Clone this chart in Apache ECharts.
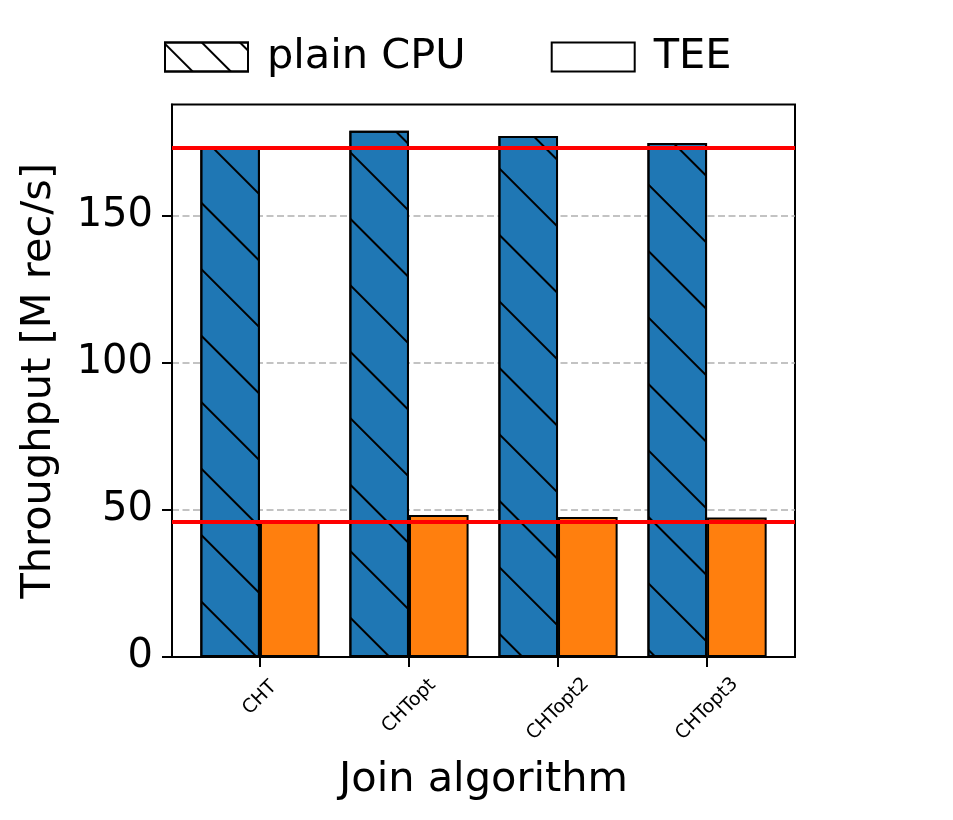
<!DOCTYPE html>
<html>
<head>
<meta charset="utf-8">
<script src="https://cdn.jsdelivr.net/npm/echarts@6/dist/echarts.min.js"></script>
<style>html,body{margin:0;padding:0;background:#fff}#c{width:953px;height:820px}</style>
</head>
<body>
<div id="c"></div>
<script>
const categories = ['CHT', 'CHTopt', 'CHTopt2', 'CHTopt3'];
const plainCPU = [172.9, 178.8, 177.0, 174.6];
const tee = [45.9, 48.2, 47.6, 47.4];
const refLines = [172.9, 45.9];
const yTicks = [0, 50, 100, 150];
const xTicks = [0, 1, 2, 3];
const seriesNames = ['plain CPU', 'TEE'];

const FONT = 'DejaVu Sans';
// upward shift of each rotated tick label's centre, to mimic centred bbox alignment
const labelShift = [11, 3, 0, 0];
const rich = {};
labelShift.forEach((d, i) => {
  const p = Math.SQRT2 * d;
  rich['s' + i] = { fontSize: 19, fontFamily: FONT, color: '#000', padding: [0, 0, p, p] };
});

const hatchBar = { symbol: 'rect', symbolSize: 1, symbolKeepAspect: false, color: '#000',
  dashArrayX: [1, 0], dashArrayY: [2, 45], rotation: Math.PI / 4 };
const hatchLegend = { symbol: 'rect', symbolSize: 1, symbolKeepAspect: false, color: '#000',
  dashArrayX: [1, 0], dashArrayY: [2, 25], rotation: Math.PI / 4 };

const chart = echarts.init(document.getElementById('c'), null, { renderer: 'canvas' });
chart.setOption({
  animation: false,
  backgroundColor: '#fff',
  textStyle: { fontFamily: FONT },
  legend: {
    left: 159, top: 31, icon: 'rect', itemWidth: 83, itemHeight: 29, itemGap: 85,
    textStyle: { fontSize: 41.5, fontFamily: FONT, color: '#000', padding: [0, 0, 0, 14] },
    data: [
      { name: seriesNames[0], itemStyle: { color: '#fff', borderColor: '#000', borderWidth: 2, decal: hatchLegend } },
      { name: seriesNames[1], itemStyle: { color: '#fff', borderColor: '#000', borderWidth: 2, decal: 'none' } }
    ]
  },
  grid: { left: 172, right: 158, top: 104.5, bottom: 163, outerBoundsMode: 'none', containLabel: false,
    show: true, borderColor: '#000', borderWidth: 2, backgroundColor: 'transparent' },
  xAxis: {
    type: 'value', min: -0.59, max: 3.59,
    name: 'Join algorithm', nameLocation: 'middle', nameGap: 102,
    nameTextStyle: { fontSize: 41.5, fontFamily: FONT, color: '#000' },
    axisLine: { show: true, onZero: false, lineStyle: { color: '#000', width: 2 } },
    splitLine: { show: false },
    axisTick: { show: true, customValues: xTicks, length: 10, lineStyle: { color: '#000', width: 2 } },
    axisLabel: {
      show: true, customValues: xTicks, rotate: 45, align: 'center', verticalAlign: 'middle', margin: 52,
      fontSize: 19, color: '#000',
      formatter: v => { const i = Math.round(v); return '{s' + i + '|' + categories[i] + '}'; },
      rich: rich
    }
  },
  yAxis: {
    type: 'value', min: 0, max: 187.7,
    name: 'Throughput [M rec/s]', nameLocation: 'middle', nameGap: 112, nameRotate: 90,
    nameTextStyle: { fontSize: 41.5, fontFamily: FONT, color: '#000' },
    axisLine: { show: true, onZero: false, lineStyle: { color: '#000', width: 2 } },
    axisTick: { show: true, customValues: yTicks, length: 10, lineStyle: { color: '#000', width: 2 } },
    axisLabel: { show: true, customValues: yTicks, fontSize: 40, color: '#000', margin: 19, fontFamily: FONT },
    splitLine: { show: true, lineStyle: { color: '#b0b0b0', width: 1.6, type: [7, 3.5] } }
  },
  series: [
    {
      name: seriesNames[0], type: 'bar', barWidth: 59.6, barGap: '0%',
      data: plainCPU.map((v, i) => [i, v]),
      itemStyle: { color: '#1f77b4', borderColor: '#000', borderWidth: 2, decal: hatchBar },
      emphasis: { disabled: true },
      markLine: {
        silent: true, symbol: 'none', label: { show: false },
        lineStyle: { color: '#ff0000', width: 4, type: 'solid' },
        emphasis: { disabled: true },
        data: refLines.map(v => ({ yAxis: v }))
      }
    },
    {
      name: seriesNames[1], type: 'bar', barWidth: 59.6, barGap: '0%',
      data: tee.map((v, i) => [i, v]),
      itemStyle: { color: '#ff7f0e', borderColor: '#000', borderWidth: 2 },
      emphasis: { disabled: true }
    }
  ]
});
</script>
</body>
</html>
